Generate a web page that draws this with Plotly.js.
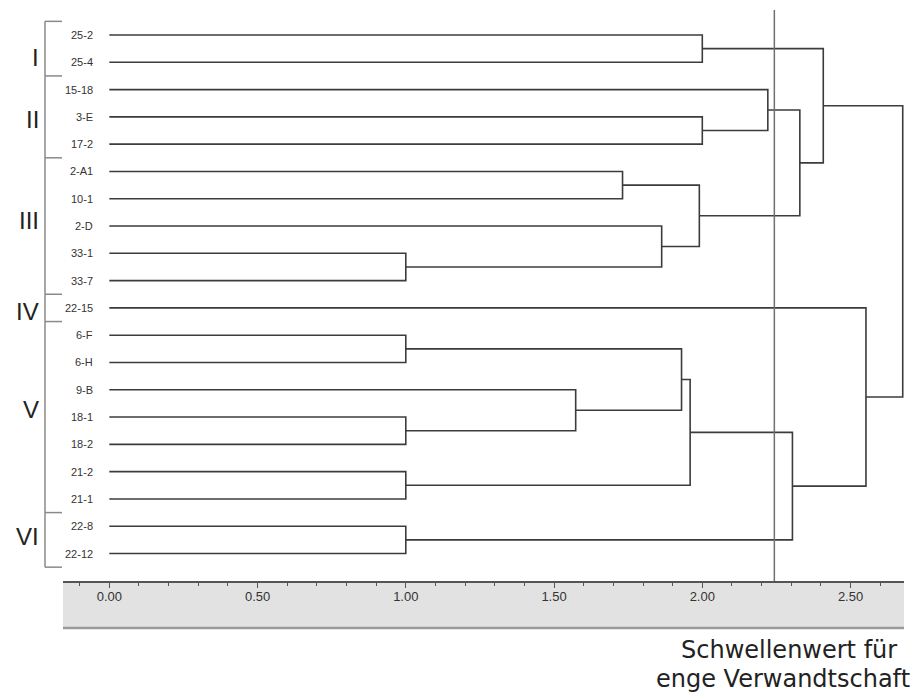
<!DOCTYPE html>
<html>
<head>
<meta charset="utf-8">
<script src="https://cdn.plot.ly/plotly-3.0.1.min.js"></script>
<style>html,body{margin:0;padding:0;background:#fff;}#chart{width:920px;height:696px;}</style>
</head>
<body>
<div id="chart"></div>
<script>
// Leaves in display order (top to bottom)
const leafLabels = ['25-2','25-4','15-18','3-E','17-2','2-A1','10-1','2-D','33-1','33-7',
                    '22-15','6-F','6-H','9-B','18-1','18-2','21-2','21-1','22-8','22-12'];
// Linkage: node ids 0..19 are leaves, merge k creates node 20+k
const mergeLeft   = [8, 11, 14, 16, 18, 13, 5, 7, 21, 28, 26, 0, 3, 2, 29, 33, 31, 10, 36];
const mergeRight  = [9, 12, 15, 17, 19, 22, 6, 20, 25, 23, 27, 1, 4, 32, 24, 30, 35, 34, 37];
const mergeHeight = [1.00, 1.00, 1.00, 1.00, 1.00, 1.573, 1.731, 1.863, 1.930, 1.959,
                     1.990, 2.000, 2.000, 2.221, 2.304, 2.329, 2.408, 2.552, 2.676];
const threshold = 2.243;
// Groups
const groupNames = ['I','II','III','IV','V','VI'];
const groupStart = [0, 2, 5, 10, 11, 18];
const groupEnd   = [1, 4, 9, 10, 17, 19];
// Axis
const xTickVals = [0, 0.5, 1, 1.5, 2, 2.5];
const bottomText = ['Schwellenwert für', 'enge Verwandtschaft'];

// layout positions (kept separate from data)
const groupLabelY = [0.81, 3.08, 6.78, 10.15, 13.74, 18.36];
const xRange = [-0.1562, 2.6803];
const yRange = [20.007, -0.916];

const nLeaf = leafLabels.length;
const nodeY = [], nodeH = [];
for (let i = 0; i < nLeaf; i++) { nodeY.push(i); nodeH.push(0); }
const lx = [], ly = [];
for (let k = 0; k < mergeHeight.length; k++) {
  const a = mergeLeft[k], b = mergeRight[k], h = mergeHeight[k];
  lx.push(nodeH[a], h, h, nodeH[b], null);
  ly.push(nodeY[a], nodeY[a], nodeY[b], nodeY[b], null);
  nodeY.push((nodeY[a] + nodeY[b]) / 2);
  nodeH.push(h);
}

function yp(i) { return (yRange[0] - i) / (yRange[0] - yRange[1]); }
const plotL = 63, plotW = 841, plotB = 581, plotH = 571;
function xpPx(px) { return (px - plotL) / plotW; }
function ypPx(px) { return (plotB - px) / plotH; }

const traces = [{
  type: 'scatter', mode: 'lines', x: lx, y: ly,
  line: {color: '#3c3c3c', width: 1.6}, hoverinfo: 'skip', showlegend: false
}];

const shapes = [];
// gray band under axis
shapes.push({type: 'rect', xref: 'paper', yref: 'paper', x0: 0, x1: 1, y0: ypPx(628), y1: 0,
  fillcolor: '#e2e2e2', line: {width: 0}, layer: 'below'});
shapes.push({type: 'line', xref: 'paper', yref: 'paper', x0: 0, x1: 1, y0: ypPx(628), y1: ypPx(628),
  line: {color: '#9a9a9a', width: 2.5}});
// threshold line
shapes.push({type: 'line', xref: 'x', yref: 'paper', x0: threshold, x1: threshold, y0: 0, y1: 1,
  line: {color: '#707070', width: 1.5}});
// group brackets
const bx0 = xpPx(45), bx1 = xpPx(62);
shapes.push({type: 'line', xref: 'paper', yref: 'paper', x0: bx0, x1: bx0,
  y0: yp(groupStart[0] - 0.5), y1: yp(groupEnd[groupEnd.length - 1] + 0.5),
  line: {color: '#8a8a8a', width: 1.5}});
const bounds = new Set();
for (let g = 0; g < groupNames.length; g++) { bounds.add(groupStart[g] - 0.5); bounds.add(groupEnd[g] + 0.5); }
bounds.forEach(b => shapes.push({type: 'line', xref: 'paper', yref: 'paper', x0: bx0, x1: bx1,
  y0: yp(b), y1: yp(b), line: {color: '#8a8a8a', width: 1.5}}));

const annotations = [];
leafLabels.forEach((t, i) => annotations.push({
  xref: 'x', yref: 'y', x: -0.047, y: i, text: t, showarrow: false, xanchor: 'right', yanchor: 'middle',
  font: {family: 'Liberation Sans, Arial', size: 11, color: '#333'}
}));
groupNames.forEach((t, g) => annotations.push({
  xref: 'paper', yref: 'paper', x: xpPx(41), y: yp(groupLabelY[g]), text: t, showarrow: false,
  xanchor: 'right', yanchor: 'middle',
  font: {family: 'Liberation Sans, Arial', size: 24, color: '#222'}
}));
annotations.push({xref: 'paper', yref: 'paper', x: xpPx(898), y: ypPx(650), text: bottomText[0],
  showarrow: false, xanchor: 'right', yanchor: 'middle', borderpad: 0,
  font: {family: 'DejaVu Sans, Liberation Sans, Arial', size: 24, color: '#222'}});
annotations.push({xref: 'paper', yref: 'paper', x: xpPx(911), y: ypPx(678.5), text: bottomText[1],
  showarrow: false, xanchor: 'right', yanchor: 'middle', borderpad: 0,
  font: {family: 'DejaVu Sans, Liberation Sans, Arial', size: 24, color: '#222'}});

const layout = {
  width: 920, height: 696,
  margin: {l: plotL, r: 920 - plotL - plotW, t: plotB - plotH, b: 696 - plotB, pad: 0},
  paper_bgcolor: '#fff', plot_bgcolor: 'rgba(0,0,0,0)',
  showlegend: false,
  xaxis: {
    range: xRange, fixedrange: true, showgrid: false, zeroline: false,
    showline: true, linecolor: '#555', linewidth: 2,
    ticks: 'outside', ticklen: 5, tickwidth: 1, tickcolor: '#555',
    tickvals: xTickVals, tickformat: '.2f', ticklabelstandoff: -3,
    tickfont: {family: 'Liberation Sans, Arial', size: 13, color: '#333'},
    minor: {dtick: 0.1, tick0: 0, ticks: 'outside', ticklen: 3, tickwidth: 1, tickcolor: '#555', showgrid: false}
  },
  yaxis: {range: yRange, visible: false, fixedrange: true, showgrid: false, zeroline: false},
  shapes: shapes,
  annotations: annotations
};

Plotly.newPlot('chart', traces, layout, {displayModeBar: false, staticPlot: true});
</script>
</body>
</html>
